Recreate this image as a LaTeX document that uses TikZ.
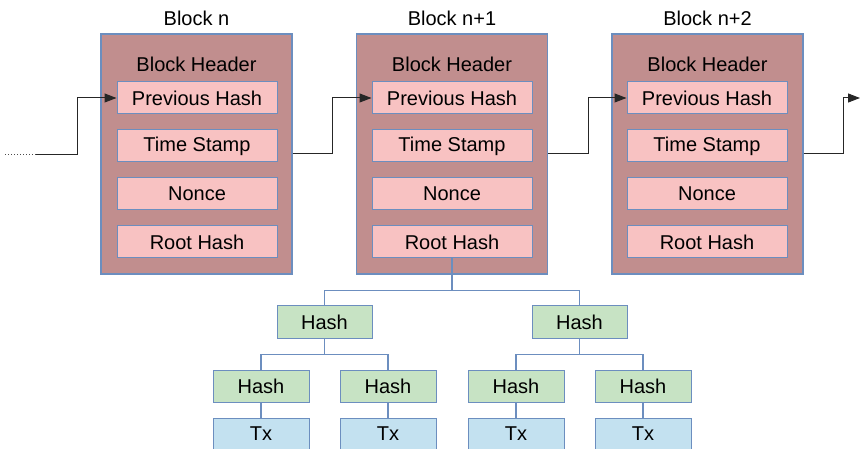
\documentclass[tikz,border=0pt]{standalone}
\usepackage{fontspec}
\setmainfont{Liberation Sans}
\usetikzlibrary{arrows.meta}
\definecolor{blockfill}{HTML}{C18E8E}
\definecolor{fieldfill}{HTML}{F8C2C2}
\definecolor{hashfill}{HTML}{C7E3C4}
\definecolor{txfill}{HTML}{C3E1F0}
\definecolor{edgeblue}{HTML}{6C8EBF}

\begin{document}
\begin{tikzpicture}[x=1pt, y=-1pt,
  every node/.style={font=\fontsize{20}{24}\selectfont, text=black},
  block/.style={draw=edgeblue, line width=1.2pt, fill=blockfill, minimum width=191pt, minimum height=240pt, inner sep=0pt},
  field/.style={draw=edgeblue, line width=1pt, fill=fieldfill, minimum width=160pt, minimum height=32pt, inner sep=0pt},
  hashbox/.style={draw=edgeblue, line width=1pt, fill=hashfill, minimum width=96pt, minimum height=32pt, inner sep=0pt},
  txbox/.style={draw=edgeblue, line width=1pt, fill=txfill, minimum width=96pt, minimum height=32pt, inner sep=0pt},
  link/.style={black!85, line width=1pt, -{Triangle[length=12pt,width=9pt]}},
  tree/.style={edgeblue, line width=1.2pt}]
  \useasboundingbox (0,0) rectangle (860,449);
  % blocks
  \node[block] (bn) at (196.5,154) {};
  \node[block] (bnb) at (452,154) {};
  \node[block] (bnc) at (707.5,154) {};
  \node (tn) at (196.5,18) {Block n};
  \node (tnb) at (452,18) {Block n+1};
  \node (tnc) at (707.5,18) {Block n+2};
  \node (hdn) at (196.5,64) {Block Header};
  \node (hdnb) at (452,64) {Block Header};
  \node (hdnc) at (707.5,64) {Block Header};
  % header fields
  \node[field] (pn) at (197,98) {Previous Hash};
  \node[field] (sn) at (197,146) {Time Stamp};
  \node[field] (on) at (197,194) {Nonce};
  \node[field] (rn) at (197,242) {Root Hash};
  \node[field] (pnb) at (452,98) {Previous Hash};
  \node[field] (snb) at (452,146) {Time Stamp};
  \node[field] (onb) at (452,194) {Nonce};
  \node[field] (rnb) at (452,242) {Root Hash};
  \node[field] (pnc) at (707,98) {Previous Hash};
  \node[field] (snc) at (707,146) {Time Stamp};
  \node[field] (onc) at (707,194) {Nonce};
  \node[field] (rnc) at (707,242) {Root Hash};
  % chain links
  \coordinate (start) at (5,155);
  \coordinate (startb) at (36,155);
  \coordinate (finish) at (860,98);
  \draw[black!70, dotted, line width=1pt] (start) -- (startb);
  \draw[link] (startb) -- ++(41,0) |- (pn.west);
  \draw[link] (bn.east) -- ++(40,0) |- (pnb.west);
  \draw[link] (bnb.east) -- ++(40,0) |- (pnc.west);
  \draw[link] (bnc.east) -- ++(40,0) |- (finish);
  % merkle tree
  \node[hashbox, minimum width=95pt] (hl) at (324.5,322) {Hash};
  \node[hashbox, minimum width=95pt] (hr) at (579.5,322) {Hash};
  \node[hashbox] (hll) at (261,386) {Hash};
  \node[hashbox] (hlr) at (388,386) {Hash};
  \node[hashbox] (hrl) at (516,386) {Hash};
  \node[hashbox] (hrr) at (643,386) {Hash};
  \node[txbox] (tll) at (261,434) {Tx};
  \node[txbox] (tlr) at (388,434) {Tx};
  \node[txbox] (trl) at (516,434) {Tx};
  \node[txbox] (trr) at (643,434) {Tx};
  \draw[tree] (rnb.south) -- ++(0,32) -| (hl.north);
  \draw[tree] (rnb.south) -- ++(0,32) -| (hr.north);
  \draw[tree] (hl.south) -- ++(0,16) -| (hll.north);
  \draw[tree] (hl.south) -- ++(0,16) -| (hlr.north);
  \draw[tree] (hr.south) -- ++(0,16) -| (hrl.north);
  \draw[tree] (hr.south) -- ++(0,16) -| (hrr.north);
  \draw[tree] (hll.south) -- (tll.north);
  \draw[tree] (hlr.south) -- (tlr.north);
  \draw[tree] (hrl.south) -- (trl.north);
  \draw[tree] (hrr.south) -- (trr.north);
\end{tikzpicture}
\end{document}
